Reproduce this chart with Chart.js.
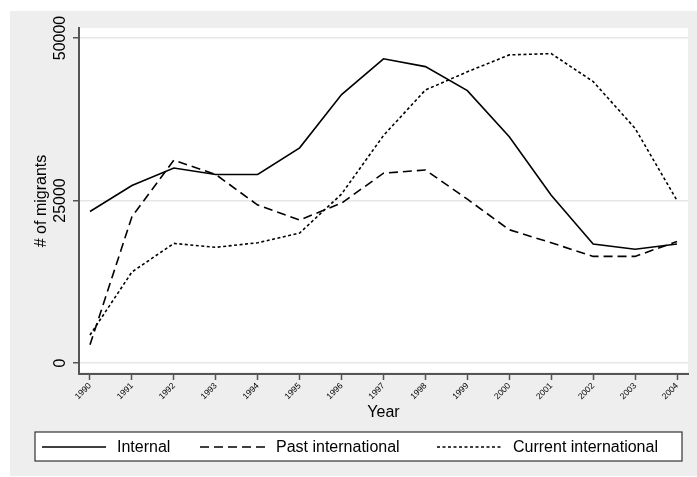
<!DOCTYPE html>
<html>
<head>
<meta charset="utf-8">
<script src="https://cdn.jsdelivr.net/npm/chart.js@4/dist/chart.umd.min.js"></script>
<style>
  html, body { margin: 0; padding: 0; background: #ffffff; }
  #wrap { width: 697px; height: 477px; }
</style>
</head>
<body>
<div id="wrap"><canvas id="c" width="697" height="477"></canvas></div>
<script>
// Migrant counts by year
const years = [1990, 1991, 1992, 1993, 1994, 1995, 1996, 1997, 1998, 1999, 2000, 2001, 2002, 2003, 2004];
const internal = [23300, 27300, 30000, 29000, 29000, 33100, 41300, 46800, 45600, 41900, 34800, 25800, 18300, 17500, 18300];
const pastInternational = [2800, 22500, 31200, 29000, 24300, 22000, 24600, 29200, 29700, 25200, 20500, 18500, 16400, 16400, 18700];
const currentInternational = [4300, 14000, 18400, 17800, 18500, 20000, 26000, 35000, 42000, 44800, 47400, 47600, 43300, 36100, 25000];
const yTicks = [0, 25000, 50000];
const seriesNames = ['Internal', 'Past international', 'Current international'];

const FONT = '"Liberation Sans", Arial, Helvetica, sans-serif';
Chart.defaults.font.family = FONT;
Chart.defaults.color = '#000';

const toPoints = vals => vals.map((v, i) => ({ x: years[i], y: v }));

// Page, outer panel and plot region fills
const backdrop = {
  id: 'backdrop',
  beforeDraw(chart) {
    const { ctx, chartArea: a } = chart;
    ctx.save();
    ctx.fillStyle = '#ffffff';
    ctx.fillRect(0, 0, chart.width, chart.height);
    ctx.fillStyle = '#eeeeee';
    ctx.fillRect(10, 11, chart.width - 10, chart.height - 12);
    ctx.fillStyle = '#ffffff';
    ctx.fillRect(a.left, a.top, a.right - a.left, a.bottom - a.top - 2);
    ctx.restore();
  }
};

// Boxed legend along the bottom
const boxLegend = {
  id: 'boxLegend',
  afterDraw(chart) {
    const { ctx } = chart;
    const slots = [
      { x0: 42, x1: 106, tx: 117 },
      { x0: 200, x1: 266, tx: 276 },
      { x0: 437, x1: 501, tx: 513 }
    ];
    ctx.save();
    ctx.fillStyle = '#ffffff';
    ctx.fillRect(35, 432, 647, 29);
    ctx.strokeStyle = '#333333';
    ctx.lineWidth = 1.2;
    ctx.strokeRect(35, 432, 647, 29);
    const cy = 447;
    chart.data.datasets.forEach((ds, i) => {
      const s = slots[i];
      ctx.beginPath();
      ctx.setLineDash(ds.borderDash || []);
      ctx.strokeStyle = ds.borderColor;
      ctx.lineWidth = ds.borderWidth;
      ctx.moveTo(s.x0, cy);
      ctx.lineTo(s.x1, cy);
      ctx.stroke();
      ctx.setLineDash([]);
      ctx.fillStyle = '#000';
      ctx.font = '16px ' + FONT;
      ctx.textBaseline = 'middle';
      ctx.textAlign = 'left';
      ctx.fillText(ds.label, s.tx, cy + 1);
    });
    ctx.restore();
  }
};

const lineStyle = (dash) => ({
  borderColor: '#000000',
  borderWidth: 1.6,
  borderDash: dash,
  pointRadius: 0,
  tension: 0,
  fill: false
});

new Chart(document.getElementById('c'), {
  type: 'line',
  data: {
    datasets: [
      Object.assign({ label: seriesNames[0], data: toPoints(internal) }, lineStyle([])),
      Object.assign({ label: seriesNames[1], data: toPoints(pastInternational) }, lineStyle([9, 5])),
      Object.assign({ label: seriesNames[2], data: toPoints(currentInternational) }, lineStyle([3, 2.5]))
    ]
  },
  options: {
    responsive: false,
    animation: false,
    devicePixelRatio: 1,
    layout: { padding: { top: 28, right: 9, left: 0, bottom: 55 } },
    plugins: {
      legend: { display: false },
      tooltip: { enabled: false }
    },
    scales: {
      x: {
        type: 'linear',
        min: 1989.738,
        max: 2004.262,
        afterBuildTicks: s => { s.ticks = years.map(v => ({ value: v })); },
        afterFit: s => { s.height = 48; },
        ticks: {
          autoSkip: false,
          minRotation: 45,
          maxRotation: 45,
          padding: 1,
          font: { size: 8.5 },
          color: '#000',
          callback: v => String(v)
        },
        grid: { drawOnChartArea: false, tickColor: '#555555', tickLength: 6, tickWidth: 1.5 },
        border: { color: '#555555', width: 2 },
        title: { display: true, text: 'Year', font: { size: 16 }, padding: 0, color: '#000' }
      },
      y: {
        min: -1692,
        max: 51538,
        afterBuildTicks: s => { s.ticks = yTicks.map(v => ({ value: v })); },
        afterFit: s => { s.width = 79; },
        ticks: {
          minRotation: 90,
          maxRotation: 90,
          crossAlign: 'center',
          padding: -10,
          font: { size: 16 },
          color: '#000',
          callback: v => String(v)
        },
        grid: { color: '#e6e6e6', lineWidth: 1.5, tickColor: '#555555', tickLength: 6, tickWidth: 1.5 },
        border: { color: '#555555', width: 2 },
        title: { display: true, text: '# of migrants', font: { size: 16 }, padding: { top: 32, bottom: 0 }, color: '#000' }
      }
    }
  },
  plugins: [backdrop, boxLegend]
});
</script>
</body>
</html>
